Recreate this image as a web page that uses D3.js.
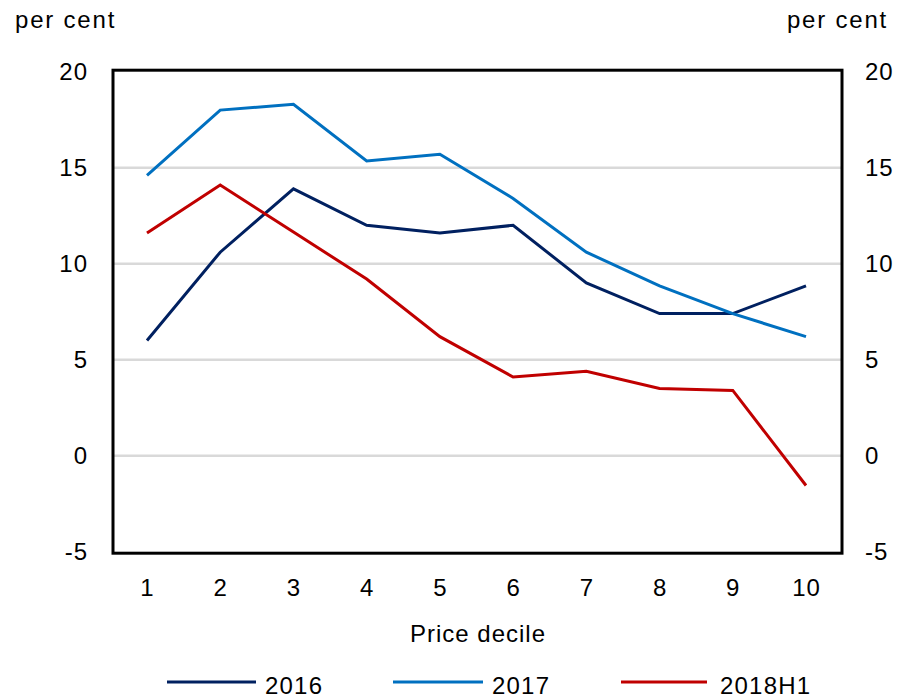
<!DOCTYPE html>
<html><head><meta charset="utf-8">
<script src="https://cdn.jsdelivr.net/npm/d3@7"></script>
<style>body{margin:0;background:#fff;} text{font-family:"Liberation Sans",Arial,sans-serif;fill:#000;}</style>
</head><body>
<svg id="c" width="897" height="698"></svg>
<script>
const deciles = [1,2,3,4,5,6,7,8,9,10];
const s2016 = [6.0,10.6,13.9,12.0,11.6,12.0,9.0,7.4,7.4,8.85];
const s2017 = [14.6,18.0,18.3,15.35,15.7,13.4,10.6,8.85,7.4,6.2];
const s2018 = [11.6,14.1,11.65,9.2,6.2,4.1,4.4,3.5,3.4,-1.55];
const yTicks = [-5,0,5,10,15,20];
const seriesNames = ["2016","2017","2018H1"];
const colors = ["#002060","#0070C0","#C00000"];

const svg = d3.select("#c");
const L=113, R=842, T=71.7, B=551.7;
const x = d3.scalePoint().domain(deciles).range([147,806]);
const y = d3.scaleLinear().domain([-5,20]).range([B,T]);

// gridlines
svg.append("g").selectAll("line").data(yTicks.filter(v=>v>-5&&v<20)).join("line")
  .attr("x1",L).attr("x2",R).attr("y1",d=>y(d)).attr("y2",d=>y(d))
  .attr("stroke","#D9D9D9").attr("stroke-width",2.5);

const fs = 24;
const fmt = d=>String(d);
const yl = d3.axisLeft(y).tickValues(yTicks).tickFormat(fmt).tickSize(0).tickPadding(25);
const gl = svg.append("g").attr("transform",`translate(${L},0)`).call(yl);
const yr = d3.axisRight(y).tickValues(yTicks).tickFormat(fmt).tickSize(0).tickPadding(23);
const gr = svg.append("g").attr("transform",`translate(${R},0)`).call(yr);
const xa = d3.axisBottom(x).tickFormat(fmt).tickSize(0).tickPadding(27);
const gx = svg.append("g").attr("transform",`translate(0,${B})`).call(xa);
[gl,gr,gx].forEach(g=>{g.select(".domain").remove();g.selectAll("text").attr("font-size",fs).attr("letter-spacing",1).attr("font-family","Liberation Sans, Arial, sans-serif").attr("fill","#000");});

// frame
svg.append("rect").attr("x",L).attr("y",T-1.5).attr("width",R-L).attr("height",B-T+3)
  .attr("fill","none").attr("stroke","#000").attr("stroke-width",3);

// lines
const data = [s2016,s2017,s2018];
const line = d3.line().x((d,i)=>x(deciles[i])).y(d=>y(d));
svg.append("g").selectAll("path").data(data).join("path")
  .attr("d",line).attr("fill","none").attr("stroke",(d,i)=>colors[i]).attr("stroke-width",3);

// labels
svg.append("text").attr("x",15).attr("y",28).attr("font-size",fs).attr("letter-spacing",1.8).text("per cent");
svg.append("text").attr("x",888).attr("y",28).attr("font-size",fs).attr("letter-spacing",1.8).attr("text-anchor","end").text("per cent");
svg.append("text").attr("x",478).attr("y",642).attr("font-size",fs).attr("letter-spacing",1).attr("text-anchor","middle").text("Price decile");

// legend
const legX = [167,393,621];
const legW = [89,90,86];
const txX = [265,492,720];
const lg = svg.append("g");
seriesNames.forEach((n,i)=>{
  lg.append("line").attr("x1",legX[i]).attr("x2",legX[i]+legW[i]).attr("y1",682).attr("y2",682)
    .attr("stroke",colors[i]).attr("stroke-width",3);
  lg.append("text").attr("x",txX[i]).attr("y",694).attr("font-size",fs).attr("letter-spacing",1.2).text(n);
});
</script>
</body></html>
